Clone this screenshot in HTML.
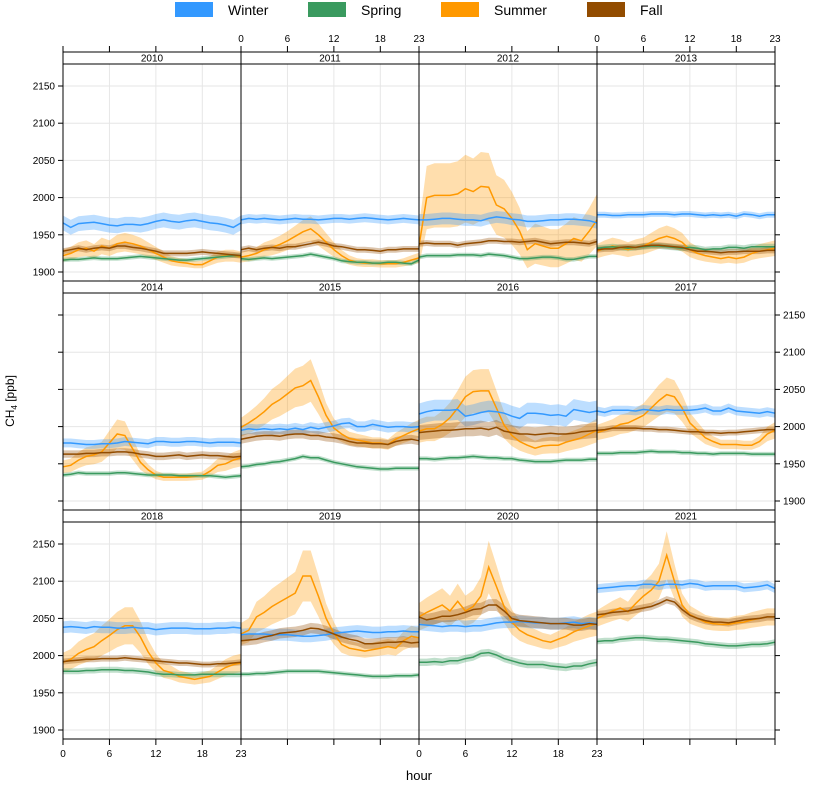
<!DOCTYPE html>
<html><head><meta charset="utf-8">
<style>
body{margin:0;background:#fff;font-family:"Liberation Sans",Arial,sans-serif;}
svg text{font-family:"Liberation Sans",Arial,sans-serif;}
</style></head>
<body>
<svg id="chart" width="814" height="784" viewBox="0 0 814 784"></svg>
<script>
const years=["2010","2011","2012","2013","2014","2015","2016","2017","2018","2019","2020","2021"];
const seasons=["Winter","Spring","Summer","Fall"];
const yTicks=[1900,1950,2000,2050,2100,2150];
const xTicks=[0,6,12,18,23];
const winter=[
[1966,1960,1965,1966,1967,1965,1963,1962,1964,1964,1963,1965,1968,1970,1968,1967,1969,1970,1968,1966,1965,1963,1960,1966],
[1970,1972,1971,1972,1971,1970,1971,1972,1971,1971,1970,1971,1972,1972,1971,1972,1973,1972,1971,1970,1971,1972,1971,1970],
[1970,1970,1971,1972,1972,1971,1970,1970,1969,1972,1974,1973,1971,1970,1968,1968,1969,1970,1970,1971,1971,1970,1969,1966],
[1977,1977,1976,1976,1977,1977,1977,1978,1978,1978,1977,1978,1978,1977,1976,1977,1976,1977,1975,1978,1977,1975,1977,1977],
[1978,1978,1977,1976,1976,1977,1977,1978,1980,1979,1978,1977,1980,1980,1979,1979,1980,1980,1979,1978,1979,1979,1979,1978],
[1995,1997,1996,1997,1996,1997,1996,1998,1996,1999,1997,1999,2001,2004,2005,2000,2000,2003,2001,1999,2000,2000,1999,2000],
[2017,2020,2022,2022,2022,2023,2014,2016,2019,2021,2020,2018,2014,2011,2018,2018,2017,2015,2016,2014,2023,2021,2019,2021],
[2021,2019,2022,2022,2022,2021,2023,2022,2021,2023,2022,2022,2022,2023,2025,2021,2021,2025,2021,2020,2019,2018,2020,2018],
[2038,2039,2038,2037,2039,2038,2038,2037,2037,2038,2037,2037,2035,2036,2037,2037,2037,2036,2036,2036,2037,2037,2038,2037],
[2028,2029,2029,2029,2028,2028,2028,2027,2026,2026,2027,2028,2030,2031,2032,2033,2032,2031,2031,2032,2032,2033,2032,2032],
[2042,2041,2040,2039,2040,2040,2039,2040,2040,2042,2044,2045,2045,2046,2045,2044,2044,2043,2043,2044,2045,2043,2044,2043],
[2090,2091,2092,2093,2094,2094,2096,2096,2094,2096,2096,2095,2097,2096,2093,2094,2094,2094,2094,2091,2092,2093,2095,2090]];
const spring=[
[1916,1917,1917,1918,1919,1918,1918,1918,1919,1920,1921,1920,1919,1918,1917,1916,1916,1917,1918,1919,1920,1921,1922,1922],
[1918,1917,1918,1919,1918,1919,1920,1921,1922,1924,1922,1920,1918,1915,1914,1913,1913,1912,1912,1913,1913,1912,1911,1916],
[1920,1922,1922,1922,1922,1923,1923,1923,1922,1924,1923,1922,1920,1918,1918,1919,1920,1920,1919,1917,1917,1919,1921,1921],
[1932,1933,1934,1933,1932,1933,1934,1935,1935,1934,1933,1932,1933,1932,1930,1931,1931,1933,1933,1932,1934,1934,1934,1934],
[1935,1936,1938,1937,1937,1937,1937,1938,1938,1937,1936,1935,1935,1935,1935,1934,1934,1934,1934,1934,1933,1932,1933,1934],
[1946,1947,1949,1950,1952,1953,1955,1957,1960,1958,1958,1955,1952,1950,1948,1946,1945,1944,1943,1943,1944,1944,1944,1944],
[1957,1957,1956,1957,1958,1958,1959,1960,1959,1958,1958,1957,1957,1955,1954,1953,1953,1953,1954,1955,1955,1955,1956,1956],
[1964,1964,1964,1965,1965,1965,1966,1967,1966,1966,1966,1965,1965,1964,1964,1963,1964,1964,1964,1964,1963,1963,1963,1963],
[1979,1979,1979,1980,1980,1981,1981,1981,1980,1980,1979,1978,1976,1975,1975,1974,1974,1974,1975,1975,1975,1975,1975,1975],
[1975,1975,1976,1976,1977,1978,1979,1979,1979,1979,1979,1978,1977,1976,1975,1974,1973,1972,1972,1972,1973,1973,1973,1974],
[1991,1991,1992,1991,1993,1993,1996,1998,2003,2004,2001,1996,1993,1990,1988,1988,1988,1986,1985,1984,1986,1986,1989,1991],
[2019,2020,2020,2022,2023,2024,2024,2023,2022,2022,2021,2020,2019,2018,2016,2015,2014,2013,2013,2014,2015,2015,2016,2018]];
const summer=[
[1922,1925,1930,1932,1928,1935,1932,1938,1940,1938,1935,1930,1925,1920,1915,1913,1912,1910,1910,1915,1920,1922,1922,1920],
[1920,1922,1925,1930,1933,1937,1942,1948,1954,1958,1950,1940,1930,1922,1916,1913,1912,1912,1911,1911,1911,1913,1916,1919],
[1935,2000,2003,2003,2003,2005,2012,2008,2015,2014,1990,1985,1972,1955,1930,1938,1935,1932,1932,1938,1945,1942,1955,1970],
[1928,1932,1935,1933,1930,1933,1935,1940,1945,1948,1945,1940,1930,1925,1922,1920,1918,1920,1918,1920,1925,1928,1930,1932],
[1946,1948,1955,1960,1962,1966,1978,1990,1988,1970,1952,1942,1935,1932,1932,1932,1932,1933,1934,1940,1948,1950,1955,1958],
[1999,2005,2012,2020,2030,2036,2044,2052,2055,2062,2040,2015,1998,1990,1984,1982,1980,1978,1978,1976,1983,1988,1993,1997],
[1994,1997,1997,2003,2012,2025,2040,2047,2048,2048,2025,2002,1988,1980,1975,1971,1974,1975,1975,1979,1982,1985,1990,1995],
[1992,1995,1998,2003,2005,2010,2015,2025,2035,2043,2040,2025,2005,1995,1985,1980,1976,1976,1976,1975,1975,1980,1990,1995],
[1991,1995,2003,2008,2012,2020,2027,2035,2040,2040,2025,2005,1990,1980,1977,1972,1970,1968,1970,1972,1978,1984,1988,1990],
[2029,2034,2052,2058,2066,2072,2078,2084,2107,2107,2080,2050,2030,2015,2010,2008,2006,2008,2010,2012,2010,2020,2026,2024],
[2052,2058,2063,2068,2060,2073,2060,2066,2080,2119,2093,2066,2045,2034,2028,2024,2020,2018,2022,2026,2032,2036,2040,2043],
[2050,2055,2060,2064,2059,2070,2080,2088,2100,2135,2100,2068,2055,2050,2045,2043,2042,2042,2044,2045,2048,2050,2052,2052]];
const fall=[
[1928,1930,1932,1930,1932,1933,1932,1935,1935,1933,1932,1930,1928,1925,1925,1925,1925,1926,1927,1926,1925,1924,1923,1922],
[1930,1932,1930,1932,1933,1932,1934,1934,1936,1938,1940,1938,1935,1934,1932,1930,1930,1929,1928,1930,1930,1931,1931,1931],
[1938,1939,1938,1938,1938,1936,1938,1939,1940,1942,1942,1941,1941,1940,1941,1942,1940,1938,1939,1940,1940,1939,1938,1941],
[1930,1931,1931,1933,1934,1933,1935,1936,1936,1935,1934,1933,1930,1928,1928,1927,1926,1927,1927,1928,1928,1928,1929,1929],
[1963,1963,1963,1964,1964,1965,1965,1966,1966,1965,1963,1962,1960,1960,1961,1962,1960,1961,1962,1961,1961,1960,1959,1960],
[1983,1985,1987,1988,1988,1987,1989,1990,1990,1988,1988,1986,1985,1983,1980,1978,1978,1977,1977,1976,1980,1982,1983,1981],
[1992,1993,1994,1995,1995,1996,1997,1997,1998,1996,1999,1994,1992,1990,1990,1989,1990,1991,1990,1990,1991,1993,1994,1995],
[1995,1996,1998,1998,1998,1998,1997,1997,1996,1996,1995,1994,1993,1993,1992,1992,1991,1992,1992,1993,1994,1995,1996,1996],
[1992,1993,1994,1995,1995,1996,1996,1996,1997,1996,1995,1994,1993,1992,1991,1990,1990,1989,1988,1988,1989,1989,1990,1991],
[2020,2021,2022,2025,2027,2030,2031,2032,2034,2037,2036,2033,2029,2025,2022,2020,2016,2016,2017,2018,2018,2019,2017,2018],
[2052,2048,2050,2053,2053,2055,2058,2062,2063,2068,2068,2060,2050,2047,2046,2045,2044,2043,2043,2043,2041,2041,2043,2042],
[2055,2056,2058,2059,2060,2062,2064,2066,2070,2075,2072,2062,2054,2050,2047,2045,2045,2044,2046,2048,2049,2050,2052,2052]];
const ciWinter=[10,6,8,4,6,7,14,6,8,8,8,6];
const ciSpring=[3,3,3,4,3,3,3,3,4,3,5,4];
const ciSummer=[5,5,25,7,5,7,10,6,7,9,10,9];
const ciFall=[4,4,4,4,5,6,10,4,4,7,8,5];

const NS="http://www.w3.org/2000/svg";
const svg=document.getElementById("chart");
function el(tag,attrs,parent){const e=document.createElementNS(NS,tag);for(const k in attrs)e.setAttribute(k,attrs[k]);(parent||svg).appendChild(e);return e;}
const colX=[63,241,419,597], pw=178;
const rowTop=[64,293,522], ph=217;
const stripH=12;
const colors={Winter:"#3399ff",Spring:"#3a9a5f",Summer:"#ff9900",Fall:"#924c00"};
const fills={Winter:"rgba(51,153,255,0.32)",Spring:"rgba(58,154,95,0.32)",Summer:"rgba(255,153,0,0.32)",Fall:"rgba(146,76,0,0.32)"};
function xs(c,h){return colX[c]+h*pw/23;}
function ys(r,v){const y1900=rowTop[r]+208;return y1900-(v-1900)*0.744;}

// legend
const legX=[175,308,441,587];
seasons.forEach((s,i)=>{
  const g=el("g",{});
  
  
  el("rect",{x:legX[i],y:2,width:38,height:15,fill:colors[s]},g);
  const t=el("text",{x:legX[i]+53,y:15,"font-size":14,fill:"#000"},g);t.textContent=s;
});

years.forEach((yr,p)=>{
  const r=Math.floor(p/4), c=p%4;
  const g=el("g",{});
  
  
  const top=rowTop[r], x0=colX[c];
  // grid
  yTicks.forEach(v=>{el("line",{x1:x0,x2:x0+pw,y1:ys(r,v),y2:ys(r,v),stroke:"#e6e6e6","stroke-width":1},g);});
  [6,12,18].forEach(h=>{el("line",{x1:xs(c,h),x2:xs(c,h),y1:top,y2:top+ph,stroke:"#e6e6e6","stroke-width":1},g);});
  const series=[[summer,ciSummer,"Summer"],[winter,ciWinter,"Winter"],[spring,ciSpring,"Spring"],[fall,ciFall,"Fall"]];
  series.forEach(([arr,ci,name])=>{
    const d=arr[p]; const mn=Math.min(...d);
    const hw=d.map(v=>ci[p]+(name==="Summer"?(v-mn)*0.25:0));
    let up=d.map((v,h)=>xs(c,h).toFixed(1)+","+ys(r,v+hw[h]).toFixed(1));
    let dn=d.map((v,h)=>xs(c,h).toFixed(1)+","+ys(r,v-hw[h]).toFixed(1)).reverse();
    const band=el("polygon",{points:up.concat(dn).join(" "),fill:fills[name],stroke:"none"},g);
    
    
  });
  series.forEach(([arr,ci,name])=>{
    const d=arr[p];
    const ln=el("polyline",{points:d.map((v,h)=>xs(c,h).toFixed(1)+","+ys(r,v).toFixed(1)).join(" "),fill:"none",stroke:colors[name],"stroke-width":1.5},g);
    
    
  });
  // strip
  const st=el("rect",{x:x0,y:top-stripH,width:pw,height:stripH,fill:"#fff",stroke:"#000","stroke-width":1},g);
  
  
  const tt=el("text",{x:x0+pw/2,y:top-2.5,"font-size":10,"text-anchor":"middle"},g);tt.textContent=yr;
  el("rect",{x:x0,y:top,width:pw,height:ph,fill:"none",stroke:"#000","stroke-width":1},g);
});
// y axes
function yAxis(r,side,labels){
  const g=el("g",{});
  
  
  const x=side==="left"?63:775;
  yTicks.forEach(v=>{
    const y=ys(r,v);
    el("line",{x1:x,x2:side==="left"?x-5:x+5,y1:y,y2:y,stroke:"#000"},g);
    if(labels){const t=el("text",{x:side==="left"?x-8:x+8,y:y+3.5,"font-size":10,"text-anchor":side==="left"?"end":"start"},g);t.textContent=v;}
  });
}
yAxis(0,"left",true);yAxis(0,"right",false);
yAxis(1,"left",false);yAxis(1,"right",true);
yAxis(2,"left",true);yAxis(2,"right",false);
// x axes
function xAxis(c,pos,labels){
  const g=el("g",{});
  
  
  const y=pos==="top"?52:739;
  xTicks.forEach(h=>{
    const x=xs(c,h);
    el("line",{x1:x,x2:x,y1:y,y2:pos==="top"?y-6:y+6,stroke:"#000"},g);
    if(labels){const t=el("text",{x:x,y:pos==="top"?y-10:y+18,"font-size":10,"text-anchor":"middle"},g);t.textContent=h;}
  });
}
[0,1,2,3].forEach(c=>{xAxis(c,"top",c%2===1);xAxis(c,"bottom",c%2===0);});
// titles
const xt=el("text",{x:419,y:780,"font-size":13,"text-anchor":"middle"});xt.textContent="hour";


const yt=el("text",{x:0,y:0,"font-size":12,"text-anchor":"middle",transform:"translate(14,401) rotate(-90)"});


yt.appendChild(document.createTextNode("CH"));
const sub=el("tspan",{"font-size":8,dy:3},yt);sub.textContent="4";
const rest=el("tspan",{dy:-3},yt);rest.textContent=" [ppb]";
</script>
</body></html>
